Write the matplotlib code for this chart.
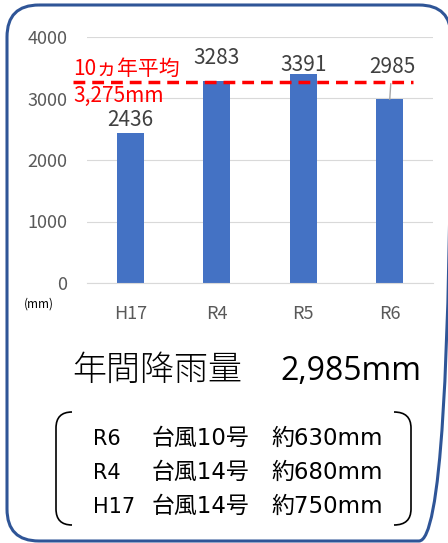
import matplotlib
matplotlib.use("Agg")
import matplotlib.pyplot as plt
from matplotlib.patches import FancyBboxPatch, PathPatch
from matplotlib.path import Path

# ---- data ----
categories = ["H17", "R4", "R5", "R6"]
rainfall = [2436, 3283, 3391, 2985]
avg_10yr = 3275
annual_total = 2985
typhoon_years = ["R6", "R4", "H17"]
typhoon_nums = [10, 14, 14]
typhoon_rain = [630, 680, 750]
yticks = [0, 1000, 2000, 3000, 4000]

# label offsets (points) for the bar value labels
label_dy = [5.1, 12.2, 2.4, 19.0]
label_dx = [0, 0, 0, 1.5]

W, H = 448, 543
CJK = "Noto Sans CJK JP"
plt.rcParams["font.family"] = [CJK, "DejaVu Sans"]

fig = plt.figure(figsize=(W / 100, H / 100), dpi=100)
fig.patch.set_facecolor("white")

# overlay axes in pixel coordinates
ov = fig.add_axes([0, 0, 1, 1], zorder=0)
ov.set_xlim(0, W)
ov.set_ylim(H, 0)
ov.axis("off")
ov.patch.set_alpha(0)

# chart axes
ax = fig.add_axes([87 / W, 1 - 283 / H, (433 - 87) / W, (283 - 37) / H], zorder=1)
ax.patch.set_alpha(0)
x = list(range(len(categories)))
ax.bar(x, rainfall, width=0.31, color="#4472C4", zorder=2)
ax.set_xlim(-0.5, len(categories) - 0.5)
ax.set_ylim(0, 4000)
ax.set_yticks(yticks)
ax.set_yticklabels([str(v) for v in yticks], fontsize=13, color="#595959")
ax.set_xticks(x)
ax.set_xticklabels(categories, fontsize=13, color="#595959")
ax.tick_params(axis="both", length=0)
ax.tick_params(axis="y", pad=14)
ax.tick_params(axis="x", pad=16)
for s in ["top", "right", "left"]:
    ax.spines[s].set_visible(False)
ax.spines["bottom"].set_color("#D9D9D9")
ax.spines["bottom"].set_linewidth(0.8)
ax.yaxis.grid(True, color="#D9D9D9", linewidth=0.8, zorder=0)
ax.set_axisbelow(True)

# value labels
for i, v in enumerate(rainfall):
    kw = {}
    if i == 3:
        kw["arrowprops"] = dict(arrowstyle="-", color="#A6A6A6", lw=1.0,
                                shrinkA=2, shrinkB=0)
    ax.annotate(str(v), xy=(i, v), xytext=(label_dx[i], label_dy[i]),
                textcoords="offset points", ha="center", va="baseline",
                fontsize=15, color="#404040", zorder=4, **kw)

# 10-year average line
x0, x1 = -0.662, 3.269
ax.plot([x0, x1], [avg_10yr, avg_10yr], color="#FF0000", lw=2.5,
        dashes=(3.4, 2.0), clip_on=False, zorder=3,
        dash_capstyle="butt")
ax.annotate("10ヵ年平均", xy=(x0, avg_10yr), xytext=(0, 5), textcoords="offset points",
            fontsize=15, color="#FF0000", ha="left", va="baseline", annotation_clip=False)
ax.annotate(f"{avg_10yr:,}mm", xy=(x0, avg_10yr), xytext=(0, -15), textcoords="offset points",
            fontsize=15, color="#FF0000", ha="left", va="baseline", annotation_clip=False)

ov.text(39, 304, "(mm)", fontsize=8.5, color="#000000", ha="center", va="center")

ov.text(72, 380, "年間降雨量", fontsize=24.5, fontweight="light", color="#000000",
        ha="left", va="baseline")
ov.text(280, 380, f"{annual_total:,}mm", fontsize=23, family="Open Sans",
        color="#000000", ha="left", va="baseline")

# typhoon box
MIX = ["DejaVu Sans", CJK]
baselines = [445, 479, 513]
for yb, yr, n, r in zip(baselines, typhoon_years, typhoon_nums, typhoon_rain):
    ov.text(93, yb, yr, fontsize=15, family=MIX, ha="left", va="baseline", color="#000000")
    ov.text(152, yb, f"台風{n}号", fontsize=16.5, family=MIX, ha="left", va="baseline",
            color="#000000")
    ov.text(271, yb, f"約{r}mm", fontsize=16.5, family=MIX, ha="left", va="baseline",
            color="#000000")

def bracket(xe, xv, y0, y1, r=16):
    verts = [(xe, y0), (xv, y0), (xv, y0 + r), (xv, y1 - r), (xv, y1), (xe, y1)]
    codes = [Path.MOVETO, Path.CURVE3, Path.CURVE3, Path.LINETO, Path.CURVE3, Path.CURVE3]
    return PathPatch(Path(verts, codes), fill=False, edgecolor="#000000", lw=1.2)

ov.add_patch(bracket(72, 56, 412, 525))
ov.add_patch(bracket(394, 411, 412, 525))

# outer rounded frame
frame = FancyBboxPatch((7, 5), 444, 536, boxstyle="round,pad=0,rounding_size=32",
                       fill=False, edgecolor="#2F5597", lw=2.2)
ov.add_patch(frame)

fig.savefig("out.png", dpi=100)
